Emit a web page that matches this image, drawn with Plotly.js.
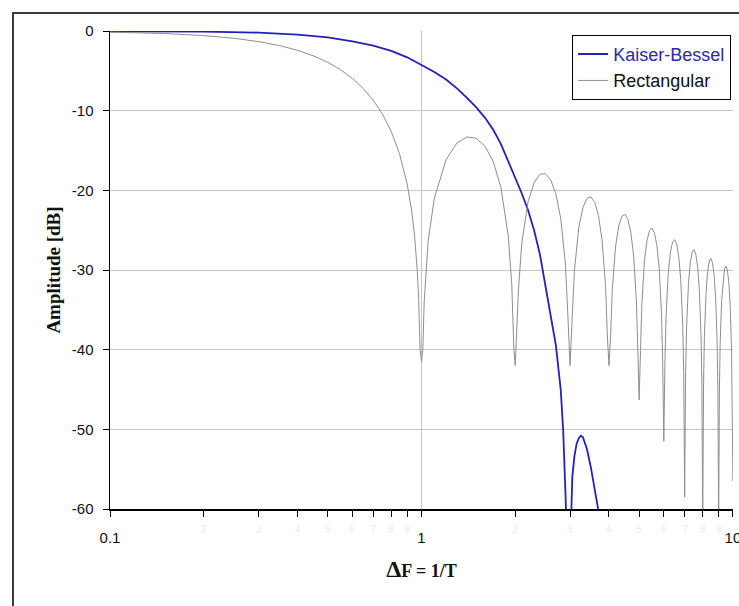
<!DOCTYPE html>
<html>
<head>
<meta charset="utf-8">
<script src="https://cdn.plot.ly/plotly-3.0.1.min.js"></script>
<style>html,body{margin:0;padding:0;background:#fff;}#chart{width:739px;height:606px;}</style>
</head>
<body>
<div id="chart"></div>
<script>
// Kaiser-Bessel window response
const kbX = [0.1,0.2,0.3,0.4,0.5,0.6,0.7,0.8,0.9,1.0,1.1,1.2,1.3,1.4,1.5,1.6,1.7,1.8,1.9,2.0,2.1,2.2,2.3,2.4,2.5,2.6,2.7,2.8,2.85,2.9,2.95,3.0,3.05,3.1,3.15,3.2,3.25,3.3,3.4,3.5,3.6,3.7,3.8];
const kbY = [-0.05,-0.08,-0.2,-0.45,-0.8,-1.3,-1.85,-2.5,-3.3,-4.25,-5.15,-6.1,-7.2,-8.4,-9.6,-10.9,-12.4,-14.2,-16.3,-18.4,-20.4,-22.5,-25.0,-28.0,-31.8,-35.6,-39.4,-45,-50,-58,-68,-66,-56,-53.3,-51.8,-51.1,-50.8,-51.0,-52.5,-54.8,-57.5,-60.2,-64];

// Rectangular window response
const rectX = [0.1,0.15,0.2,0.25,0.3,0.35,0.4,0.45,0.5,0.55,0.6,0.65,0.7,0.75,0.8,0.85,0.9,0.93,0.95,0.97,0.98,0.99,1.0,
  1.01,1.02,1.05,1.1,1.2,1.3,1.4,1.5,1.6,1.7,1.8,1.9,1.95,1.98,2.0,
  2.05,2.1,2.2,2.3,2.4,2.5,2.6,2.7,2.8,2.9,2.95,3.0,
  3.05,3.1,3.2,3.3,3.4,3.5,3.6,3.7,3.8,3.9,3.95,4.0,
  4.05,4.1,4.2,4.3,4.4,4.5,4.6,4.7,4.8,4.9,4.95,5.0,
  5.05,5.1,5.2,5.3,5.4,5.5,5.6,5.7,5.8,5.9,5.95,6.0,
  6.05,6.1,6.2,6.3,6.4,6.5,6.6,6.7,6.8,6.9,6.95,7.0,
  7.05,7.1,7.2,7.3,7.4,7.5,7.6,7.7,7.8,7.9,7.95,8.0,
  8.05,8.1,8.2,8.3,8.4,8.5,8.6,8.7,8.8,8.9,8.95,9.0,
  9.05,9.1,9.2,9.3,9.4,9.5,9.6,9.7,9.8,9.9,9.95,10.0];
const rectY = [-0.14,-0.32,-0.58,-0.91,-1.33,-1.83,-2.42,-3.12,-3.92,-4.86,-5.94,-7.2,-8.69,-10.45,-12.62,-15.39,-19.23,-22.54,-25.61,-30.21,-33.81,-39.9,-41.5,
  -40.09,-34.16,-26.48,-20.97,-16.15,-14.06,-13.31,-13.47,-14.47,-16.39,-19.67,-25.72,-31.85,-39.92,-42,
  -32.29,-26.59,-21.41,-19.02,-17.99,-17.9,-18.68,-20.41,-23.51,-29.39,-35.45,-42,
  -35.74,-29.97,-24.67,-22.15,-21.01,-20.82,-21.51,-23.15,-26.16,-31.96,-37.99,-42,
  -38.2,-32.4,-27.03,-24.45,-23.25,-23.01,-23.64,-25.23,-28.19,-33.95,-39.95,-46.3,
  -40.12,-34.29,-28.88,-26.27,-25.03,-24.75,-25.35,-26.9,-29.83,-35.56,-41.54,-51.5,
  -41.69,-35.85,-30.41,-27.77,-26.51,-26.2,-26.77,-28.3,-31.21,-36.92,-42.89,-58.5,
  -43.02,-37.17,-31.71,-29.05,-27.77,-27.44,-28.0,-29.51,-32.41,-38.1,-44.06,-62,
  -44.17,-38.31,-32.84,-30.17,-28.87,-28.53,-29.07,-30.57,-33.45,-39.13,-45.09,-62,
  -45.19,-39.32,-33.84,-31.15,-29.85,-29.5,-30.03,-31.52,-34.39,-40.06,-46.01,-56.5];

const seriesNames = ['Kaiser-Bessel','Rectangular'];
const xMajorTicks = [0.1, 1, 10];
const xMajorText = ['0.1', '1', '10'];
const xMinorTicks = [0.2,0.3,0.4,0.5,0.6,0.7,0.8,0.9,2,3,4,5,6,7,8,9];
const yTicks = [0,-10,-20,-30,-40,-50,-60];
const yTickText = ['0','-10','-20','-30','-40','-50','-60'];

const traces = [
  {x: kbX, y: kbY, type: 'scatter', mode: 'lines', name: '<span style="color:#2a2aa8">' + seriesNames[0] + '</span>',
   line: {color: '#2222bb', width: 1.8}},
  {x: rectX, y: rectY, type: 'scatter', mode: 'lines', name: seriesNames[1],
   line: {color: '#8e8e8e', width: 1}}
];

const layout = {
  width: 739, height: 606,
  margin: {l: 110, r: 6, t: 31, b: 97, pad: 0},
  paper_bgcolor: '#ffffff', plot_bgcolor: '#ffffff',
  font: {family: 'Liberation Sans, Arial, sans-serif', size: 14, color: '#111'},
  showlegend: true,
  legend: {x: 0.997, y: 0.992, xanchor: 'right', yanchor: 'top', bgcolor: '#ffffff',
    bordercolor: '#000000', borderwidth: 1, font: {size: 18, color: '#111', family: 'Liberation Sans, Arial, sans-serif'},
    tracegroupgap: 0},
  xaxis: {
    type: 'log', range: [-1, 1.0003],
    tickmode: 'array', tickvals: xMajorTicks, ticktext: xMajorText,
    ticks: 'outside', ticklen: 6, tickcolor: '#000', tickwidth: 1,
    minor: {tickmode: 'array', tickvals: xMinorTicks, ticks: 'outside', ticklen: 6, tickcolor: '#000', showgrid: false},
    showline: true, linecolor: '#000', linewidth: 1.5,
    showgrid: true, gridcolor: '#c4c4c4', gridwidth: 1,
    zeroline: false,
    tickfont: {family: 'Liberation Sans, Arial, sans-serif', size: 15, color: '#111'},
    ticklabelstandoff: 8,
    ticklabeloverflow: 'allow',
    title: {text: '<b><span style="font-size:24px">Δ</span>F = 1/T</b>', font: {family: 'Liberation Serif, Times New Roman, serif', size: 18, color: '#111'}, standoff: 20},
    automargin: false
  },
  yaxis: {
    range: [-60, 0],
    tickmode: 'array', tickvals: yTicks, ticktext: yTickText,
    ticks: 'outside', ticklen: 6, tickcolor: '#000',
    showline: true, linecolor: '#000', linewidth: 1.5,
    showgrid: true, gridcolor: '#c4c4c4', gridwidth: 1,
    zeroline: false,
    tickfont: {family: 'Liberation Sans, Arial, sans-serif', size: 15, color: '#111'},
    ticklabelstandoff: 6,
    title: {text: '<b>Amplitude [dB]</b>', font: {family: 'Liberation Serif, Times New Roman, serif', size: 19, color: '#111'}, standoff: 6},
    automargin: false
  },
  shapes: [
    {type: 'path', xref: 'paper', yref: 'paper', path: 'M -0.1557,-0.25 L -0.1557,1.0377 L 1.05,1.0377',
     line: {color: '#3c3c3c', width: 2}, layer: 'above'}
  ],
  annotations: xMinorTicks.map(v => ({x: Math.log10(v), y: -0.027, xref: 'x', yref: 'paper', text: String(v < 1 ? Math.round(v * 10) : v),
    showarrow: false, font: {size: 10, color: '#ececec', family: 'Liberation Sans, Arial, sans-serif'}, yanchor: 'top'}))
};

Plotly.newPlot('chart', traces, layout, {staticPlot: true, displayModeBar: false});
</script>
</body>
</html>
